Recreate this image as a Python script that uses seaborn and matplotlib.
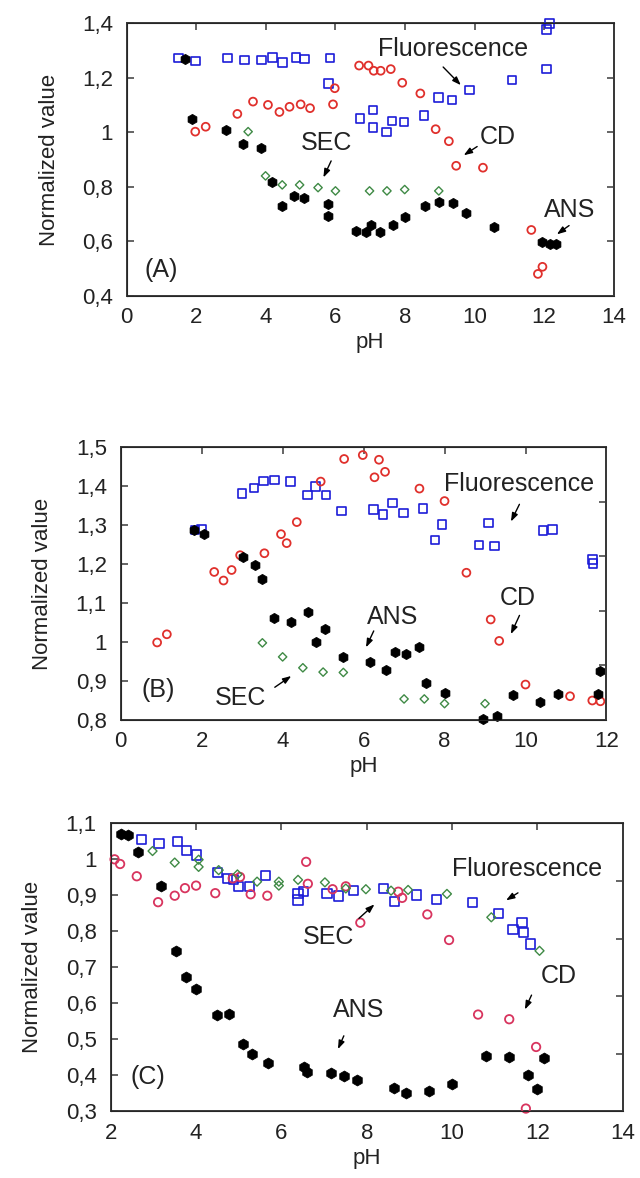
import numpy as np
import pandas as pd
import seaborn as sns
import matplotlib.pyplot as plt

# ---- panel A ----
fluo_A_x = [1.49, 1.97, 2.89, 3.38, 3.87, 4.19, 4.48, 4.86, 5.11, 5.84, 5.80, 6.70, 7.08, 7.08, 7.46,
            7.62, 7.97, 8.55, 8.96, 9.35, 9.86, 11.07, 12.06, 12.06, 12.16]
fluo_A_y = [1.271, 1.261, 1.272, 1.264, 1.264, 1.274, 1.256, 1.274, 1.268, 1.272, 1.179, 1.051, 1.081,
            1.018, 1.000, 1.041, 1.037, 1.062, 1.128, 1.118, 1.155, 1.191, 1.231, 1.377, 1.399]
cd_A_x = [1.97, 2.27, 3.18, 3.63, 4.06, 4.39, 4.68, 5.00, 5.27, 5.93, 5.98, 6.68, 6.95, 7.10, 7.30,
          7.59, 7.92, 8.44, 8.88, 9.26, 9.47, 10.24, 11.63, 11.95, 11.82]
cd_A_y = [1.002, 1.020, 1.067, 1.112, 1.100, 1.074, 1.093, 1.102, 1.088, 1.102, 1.161, 1.244, 1.244,
          1.225, 1.225, 1.231, 1.181, 1.142, 1.011, 0.967, 0.877, 0.870, 0.642, 0.507, 0.481]
sec_A_x = [3.49, 3.99, 4.47, 4.97, 5.50, 6.00, 6.98, 7.48, 7.99, 8.97]
sec_A_y = [1.002, 0.840, 0.807, 0.807, 0.797, 0.785, 0.785, 0.785, 0.790, 0.785]
ans_A_x = [1.68, 1.87, 2.85, 3.35, 3.85, 4.17, 4.47, 4.82, 5.11, 5.80, 5.78, 6.60, 6.89, 7.03, 7.27,
           7.65, 7.99, 8.56, 8.97, 9.38, 9.74, 10.55, 11.95, 12.16, 12.35]
ans_A_y = [1.267, 1.048, 1.008, 0.957, 0.942, 0.818, 0.730, 0.767, 0.760, 0.736, 0.693, 0.639, 0.636,
           0.660, 0.636, 0.660, 0.690, 0.731, 0.745, 0.741, 0.705, 0.652, 0.599, 0.589, 0.589]

# ---- panel B ----
fluo_B_x = [1.83, 2.00, 3.00, 3.29, 3.53, 3.80, 4.19, 4.61, 4.81, 5.07, 5.46, 6.25, 6.48, 6.72, 6.98,
            7.47, 7.76, 7.94, 8.85, 9.09, 9.24, 10.43, 10.66, 11.65, 11.67]
fluo_B_y = [1.288, 1.290, 1.382, 1.395, 1.413, 1.416, 1.412, 1.377, 1.400, 1.377, 1.337, 1.341, 1.327,
            1.357, 1.331, 1.343, 1.262, 1.302, 1.249, 1.306, 1.247, 1.286, 1.289, 1.212, 1.202]
cd_B_x = [0.90, 1.14, 2.31, 2.54, 2.74, 2.95, 3.55, 3.96, 4.10, 4.35, 4.94, 5.52, 5.98, 6.38, 6.27,
          6.53, 7.38, 8.00, 8.54, 9.14, 9.35, 10.00, 11.10, 11.65, 11.85]
cd_B_y = [0.999, 1.020, 1.180, 1.158, 1.185, 1.223, 1.228, 1.277, 1.254, 1.308, 1.412, 1.470, 1.480,
          1.468, 1.423, 1.437, 1.394, 1.362, 1.178, 1.058, 1.003, 0.891, 0.861, 0.850, 0.848]
sec_B_x = [3.5, 4.0, 4.5, 5.0, 5.5, 7.0, 7.5, 8.0, 9.0]
sec_B_y = [0.998, 0.962, 0.934, 0.923, 0.922, 0.854, 0.854, 0.842, 0.842]
ans_B_x = [1.82, 2.06, 3.03, 3.32, 3.50, 3.79, 4.20, 4.62, 4.83, 5.05, 5.50, 6.15, 6.55, 6.78, 7.05,
           7.36, 7.55, 8.00, 8.95, 9.30, 9.70, 10.35, 10.80, 11.80, 11.85]
ans_B_y = [1.288, 1.277, 1.218, 1.198, 1.161, 1.061, 1.052, 1.076, 1.000, 1.033, 0.962, 0.950, 0.929,
           0.974, 0.970, 0.988, 0.895, 0.869, 0.803, 0.811, 0.865, 0.846, 0.868, 0.866, 0.925]

# ---- panel C ----
fluo_C_x = [2.72, 3.13, 3.56, 3.77, 4.02, 4.50, 4.74, 4.88, 4.99, 5.26, 5.63, 6.39, 6.39, 6.52, 7.07,
            7.33, 7.69, 8.40, 8.66, 9.16, 9.63, 10.48, 11.08, 11.64, 11.43, 11.68, 11.83]
fluo_C_y = [1.054, 1.043, 1.049, 1.024, 1.012, 0.964, 0.947, 0.943, 0.924, 0.924, 0.954, 0.904, 0.887,
            0.910, 0.906, 0.898, 0.913, 0.919, 0.884, 0.901, 0.889, 0.881, 0.850, 0.824, 0.806, 0.796, 0.765]
cd_C_x = [2.09, 2.22, 2.61, 3.11, 3.50, 3.74, 4.00, 4.45, 4.86, 5.03, 5.28, 5.67, 6.58, 6.62, 7.20,
          7.51, 7.85, 8.74, 8.83, 9.42, 9.93, 10.61, 11.34, 11.97, 11.73]
cd_C_y = [1.000, 0.987, 0.953, 0.881, 0.899, 0.920, 0.927, 0.906, 0.947, 0.951, 0.903, 0.899, 0.993,
          0.932, 0.917, 0.925, 0.824, 0.910, 0.893, 0.847, 0.776, 0.569, 0.556, 0.479, 0.308]
sec_C_x = [2.98, 3.50, 4.06, 4.06, 4.53, 4.97, 5.43, 5.94, 5.94, 6.39, 7.02, 7.51, 7.98, 8.57, 8.97,
           9.88, 10.92, 12.05]
sec_C_y = [1.023, 0.991, 0.999, 0.979, 0.970, 0.958, 0.938, 0.938, 0.927, 0.943, 0.936, 0.919, 0.917,
           0.913, 0.915, 0.904, 0.839, 0.746]
ans_C_x = [2.24, 2.40, 2.64, 3.17, 3.53, 3.77, 4.01, 4.49, 4.78, 5.10, 5.30, 5.68, 6.52, 6.60, 7.17,
           7.46, 7.77, 8.64, 8.92, 9.45, 10.0, 10.8, 11.33, 11.77, 12.0, 12.15]
ans_C_y = [1.070, 1.068, 1.019, 0.927, 0.745, 0.674, 0.641, 0.568, 0.571, 0.488, 0.460, 0.435, 0.423,
           0.409, 0.408, 0.398, 0.388, 0.364, 0.352, 0.358, 0.375, 0.454, 0.450, 0.402, 0.361, 0.447]

# axis ticks
xticks_A = [0, 2, 4, 6, 8, 10, 12, 14]
yticks_A = [0.4, 0.6, 0.8, 1.0, 1.2, 1.4]
xticks_B = [0, 2, 4, 6, 8, 10, 12]
yticks_B = [0.8, 0.9, 1.0, 1.1, 1.2, 1.3, 1.4, 1.5]
xticks_C = [2, 4, 6, 8, 10, 12, 14]
yticks_C = [0.3, 0.4, 0.5, 0.6, 0.7, 0.8, 0.9, 1.0, 1.1]

sns.set_style("white")
plt.rcParams['font.family'] = ['Liberation Sans', 'DejaVu Sans']

BLUE = "#1c1cd8"
RED = "#e0302c"
PINK = "#d8345e"
GREEN = "#3f8a45"
EDGE = "#3a3a3a"
TXT = "#222222"


def lab(v):
    return f"{v:g}".replace('.', ',')


def draw(ax, fx, fy, cx, cy, sx, sy, ax_x, ax_y, red, big=1.0):
    kw = dict(ax=ax, clip_on=False, legend=False)
    sns.scatterplot(x=fx, y=fy, marker='s', s=38 * big, facecolor='none', edgecolor=BLUE,
                    linewidth=1.2, zorder=3, **kw)
    sns.scatterplot(x=cx, y=cy, marker='o', s=32 * big, facecolor='none', edgecolor=red,
                    linewidth=1.3, zorder=3, **kw)
    sns.scatterplot(x=sx, y=sy, marker='D', s=18 * big, facecolor='none', edgecolor=GREEN,
                    linewidth=1.0, zorder=3, **kw)
    sns.scatterplot(x=ax_x, y=ax_y, marker='h', s=55 * big, color='black', edgecolor='black',
                    linewidth=0.5, zorder=4, **kw)


def style(ax, xt, yt):
    ax.set_xlim(xt[0], xt[-1])
    ax.set_ylim(yt[0], yt[-1])
    ax.set_xticks(xt)
    ax.set_xticklabels([lab(v) for v in xt])
    ax.set_yticks(yt)
    ax.set_yticklabels([lab(v) for v in yt])
    ax.tick_params(direction='in', length=5, width=1.1, top=True, right=False,
                   labelsize=16, colors=EDGE, labelcolor=TXT)
    ax.tick_params(axis='y', pad=10)
    ax.tick_params(axis='x', pad=8)
    for sp in ax.spines.values():
        sp.set_color(EDGE)
        sp.set_linewidth(1.4)
    ax.set_xlabel("pH", fontsize=16, color=TXT, labelpad=3)
    ax.set_ylabel("Normalized value", fontsize=16, color=TXT, labelpad=16)
    tw = ax.twinx()
    tw.set_ylim(0, 1)
    tw.set_yticks([0.2, 0.4, 0.6, 0.8])
    tw.set_yticklabels([])
    tw.tick_params(direction='in', length=5, width=1.1, colors=EDGE)
    tw.spines['right'].set_color(EDGE)
    tw.spines['right'].set_linewidth(1.4)


def note(ax, text, txy, start, end):
    ax.text(txy[0], txy[1], text, fontsize=18, ha='center', va='center', color=TXT)
    ax.annotate("", xy=end, xytext=start,
                arrowprops=dict(arrowstyle='-|>,head_length=0.5,head_width=0.18',
                                color='black', lw=1.0))


fig = plt.figure(figsize=(6.4, 11.78), dpi=100)
axA = fig.add_axes([0.198, 0.7487, 0.761, 0.2318])
axB = fig.add_axes([0.1886, 0.3888, 0.759, 0.2315])
axC = fig.add_axes([0.173, 0.0565, 0.800, 0.2446])

draw(axA, fluo_A_x, fluo_A_y, cd_A_x, cd_A_y, sec_A_x, sec_A_y, ans_A_x, ans_A_y, RED)
style(axA, xticks_A, yticks_A)
note(axA, "Fluorescence", (9.37, 1.305), (9.04, 1.246), (9.66, 1.165))
note(axA, "CD", (10.67, 0.983), (10.14, 0.953), (9.62, 0.910))
note(axA, "ANS", (12.73, 0.715), (12.78, 0.664), (12.30, 0.620))
note(axA, "SEC", (5.74, 0.959), (5.91, 0.904), (5.62, 0.825))
axA.text(1.0, 0.495, "(A)", fontsize=18, ha='center', va='center', color=TXT)

draw(axB, fluo_B_x, fluo_B_y, cd_B_x, cd_B_y, sec_B_x, sec_B_y, ans_B_x, ans_B_y, RED)
style(axB, xticks_B, yticks_B)
note(axB, "Fluorescence", (9.83, 1.406), (9.88, 1.360), (9.61, 1.303))
note(axB, "CD", (9.82, 1.114), (9.88, 1.075), (9.61, 1.014))
note(axB, "ANS", (6.73, 1.065), (6.28, 1.035), (6.03, 0.980))
note(axB, "SEC", (2.97, 0.857), (3.75, 0.880), (4.27, 0.917))
axB.text(0.92, 0.878, "(B)", fontsize=18, ha='center', va='center', color=TXT)

draw(axC, fluo_C_x, fluo_C_y, cd_C_x, cd_C_y, sec_C_x, sec_C_y, ans_C_x, ans_C_y, PINK, big=1.15)
style(axC, xticks_C, yticks_C)
note(axC, "Fluorescence", (11.75, 0.973), (11.60, 0.911), (11.21, 0.882))
note(axC, "CD", (12.49, 0.676), (11.89, 0.630), (11.68, 0.576))
note(axC, "ANS", (7.82, 0.581), (7.49, 0.517), (7.30, 0.466))
note(axC, "SEC", (7.10, 0.785), (7.77, 0.831), (8.23, 0.880))
axC.text(2.87, 0.397, "(C)", fontsize=18, ha='center', va='center', color=TXT)

fig.savefig("out.png", dpi=100)
